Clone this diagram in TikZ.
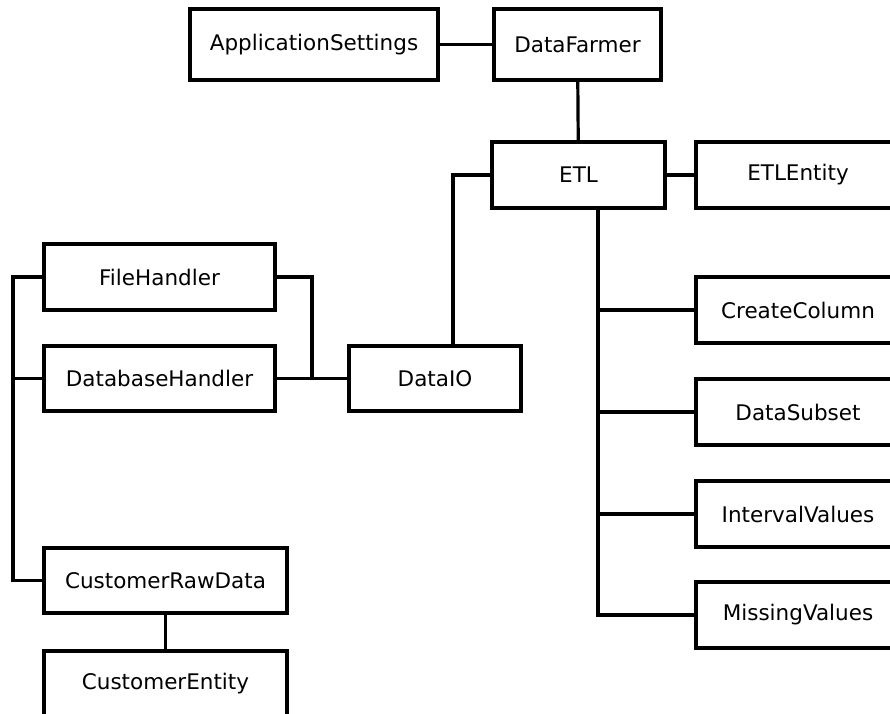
\documentclass[tikz,border=0pt]{standalone}
\usepackage{fontspec}
\setmainfont{DejaVu Sans}
\begin{document}
\begin{tikzpicture}[x=1pt,y=-1pt,
  cls/.style={draw=black,line width=2.8pt,fill=white,rectangle,inner sep=0pt,
    minimum height=64pt,font=\fontsize{21.5}{25}\selectfont},
  tall/.style={minimum height=70pt},
  link/.style={draw=black,line width=3.2pt}]
\clip (0,0) rectangle (890,713);
\fill[white] (0,0) rectangle (890,713);

% top row
\node[cls,tall,minimum width=246pt] (app) at (314,44.5) {ApplicationSettings};
\node[cls,tall,minimum width=165pt] (farmer) at (577.5,44.5) {DataFarmer};

% ETL core
\node[cls,minimum width=171pt] (etl) at (578.5,175) {ETL};
\node[cls,minimum width=202pt] (etlent) at (798,175) {ETLEntity};

% data access side
\node[cls,minimum width=229pt] (fh) at (159.5,277) {FileHandler};
\node[cls,minimum width=229pt] (dbh) at (159.5,378.5) {DatabaseHandler};
\node[cls,minimum width=170pt] (dio) at (435,378.5) {DataIO};
\node[cls,minimum width=241pt] (crd) at (165.5,580.5) {CustomerRawData};
\node[cls,minimum width=241pt] (cent) at (165.5,684) {CustomerEntity};

% transformation steps
\node[cls,minimum width=202pt] (cc) at (798,310) {CreateColumn};
\node[cls,minimum width=202pt] (ds) at (798,412) {DataSubset};
\node[cls,minimum width=202pt] (iv) at (798,514) {IntervalValues};
\node[cls,minimum width=202pt] (mv) at (798,615) {MissingValues};

% bend points
\coordinate (etlleft) at (453,175);
\coordinate (diotop) at (453,347);
\coordinate (etlbot) at (598,207);
\coordinate (busend) at (598,615);
\coordinate (fhbend) at (312,277);
\coordinate (fhjoin) at (312,378.5);
\coordinate (lbustop) at (13,277);
\coordinate (lbusbot) at (13,580.5);
\coordinate (lbusmid) at (13,378.5);

% connectors
\draw[link] (app) -- (farmer);
\draw[link] (farmer) -- (etl);
\draw[link] (etl) -- (etlent);
\draw[link] (etl.west) -- (etlleft) -- (diotop);
\draw[link] (etlbot) -- (busend) -- (mv.west);
\draw[link] (etlbot |- cc.west) -- (cc.west);
\draw[link] (etlbot |- ds.west) -- (ds.west);
\draw[link] (etlbot |- iv.west) -- (iv.west);
\draw[link] (fh.east) -- (fhbend) -- (fhjoin);
\draw[link] (dbh.east) -- (dio.west);
\draw[link] (fh.west) -- (lbustop) -- (lbusbot) -- (crd.west);
\draw[link] (lbusmid) -- (dbh.west);
\draw[link] (crd) -- (cent);

% redraw box outlines over the connector ends
\foreach \n in {app,farmer,etl,etlent,fh,dbh,dio,crd,cent,cc,ds,iv,mv}
  \draw[line width=2.8pt] (\n.north west) rectangle (\n.south east);
\end{tikzpicture}
\end{document}
